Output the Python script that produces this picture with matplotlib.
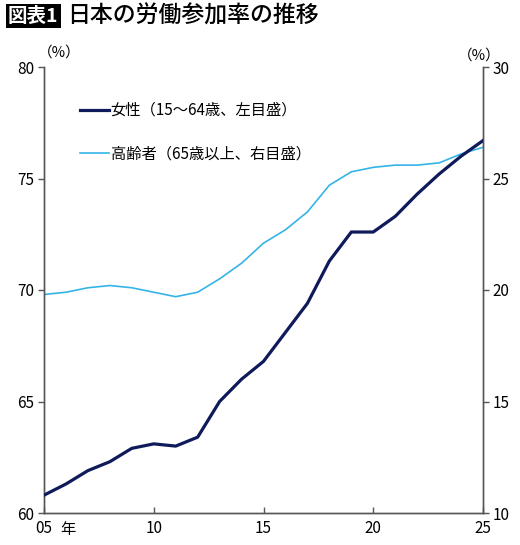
import matplotlib
matplotlib.use("Agg")
import matplotlib.pyplot as plt
import matplotlib.transforms as mtransforms

plt.rcParams['font.family'] = ['Noto Sans CJK JP', 'DejaVu Sans']

# データ
years = list(range(2005, 2026))
josei = [60.8, 61.3, 61.9, 62.3, 62.9, 63.1, 63.0, 63.4, 65.0, 66.0, 66.8,
         68.1, 69.4, 71.3, 72.6, 72.6, 73.3, 74.3, 75.2, 76.0, 76.7]
koureisha = [19.8, 19.9, 20.1, 20.2, 20.1, 19.9, 19.7, 19.9, 20.5, 21.2, 22.1,
             22.7, 23.5, 24.7, 25.3, 25.5, 25.6, 25.6, 25.7, 26.1, 26.4]
xticks = [2005, 2010, 2015, 2020, 2025]
xticklabels = ["05", "10", "15", "20", "25"]
label_josei = "女性（15～64歳、左目盛）"
label_kourei = "高齢者（65歳以上、右目盛）"

NAVY = "#0f1a5a"
SKY = "#35b4e6"
SPINE = "#555555"

fig = plt.figure(figsize=(5.2, 5.45), dpi=100)
ax = fig.add_axes([44 / 520, 1 - 513 / 545, (483 - 44) / 520, (513 - 67) / 545])
ax2 = ax.twinx()

l1, = ax.plot(years, josei, color=NAVY, linewidth=2.3, zorder=3)
l2, = ax2.plot(years, koureisha, color=SKY, linewidth=1.2, zorder=2)
ax.set_zorder(ax2.get_zorder() + 1)
ax.patch.set_visible(False)

ax.set_xlim(2005, 2025)
ax.set_ylim(60, 80)
ax2.set_ylim(10, 30)
ax.set_yticks([60, 65, 70, 75, 80])
ax2.set_yticks([10, 15, 20, 25, 30])
ax.set_xticks(xticks)
ax.set_xticklabels(xticklabels)

for a in (ax, ax2):
    a.spines['top'].set_visible(False)
    for s in ('left', 'right', 'bottom'):
        a.spines[s].set_color(SPINE)
        a.spines[s].set_linewidth(1.0)
ax.tick_params(axis='y', direction='out', length=4, width=1, color=SPINE,
               labelsize=11, pad=3)
ax2.tick_params(axis='y', direction='out', length=4, width=1, color=SPINE,
                labelsize=11, pad=3)
ax.tick_params(axis='x', direction='in', length=4, width=1, color=SPINE,
               labelsize=11, pad=5)

# 「年」
trans = mtransforms.blended_transform_factory(ax.transData, ax.transAxes)
ax.text(2005.75, -0.018, "年", transform=trans, ha='left', va='top', fontsize=11)

# (%)
fig.text(38 / 520, 1 - 53 / 545, "（%）", fontsize=10.5, ha='left', va='center')
fig.text(458 / 520, 1 - 56 / 545, "（%）", fontsize=10.5, ha='left', va='center')

ax.legend([l1, l2], [label_josei, label_kourei], loc='upper left',
          bbox_to_anchor=(80 / 520, 1 - 102 / 545), bbox_transform=fig.transFigure,
          frameon=False, fontsize=11, handlelength=1.9, handletextpad=0.1,
          labelspacing=1.75, borderpad=0, borderaxespad=0)

# タイトル
fig.text(8 / 520, 1 - 16 / 545, "図表1", fontsize=14, color="white", fontweight='bold',
         ha='left', va='center',
         bbox=dict(boxstyle='square,pad=0.12', facecolor='black', edgecolor='none'))
fig.text(67 / 520, 1 - 16 / 545, "日本の労働参加率の推移", fontsize=16.5,
         ha='left', va='center', fontweight='medium')

plt.savefig("out.png", dpi=100)
